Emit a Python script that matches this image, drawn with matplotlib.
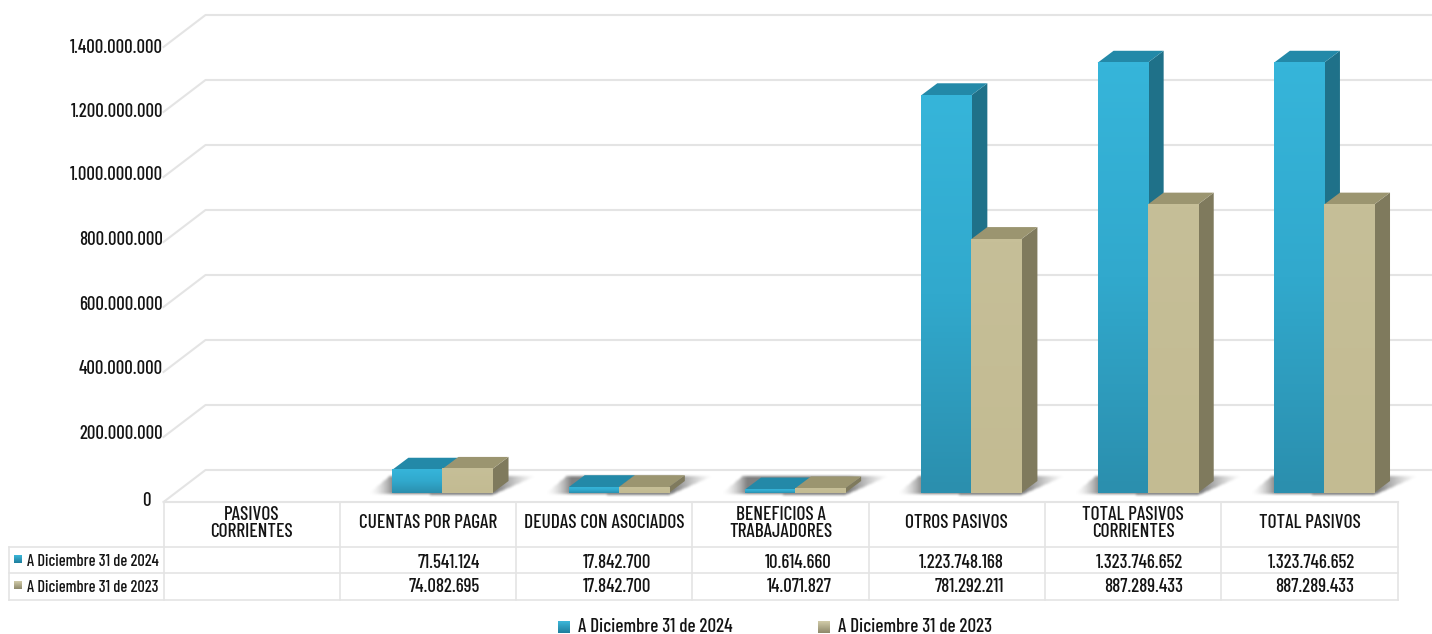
import numpy as np
import matplotlib
matplotlib.use('Agg')
import matplotlib.pyplot as plt
from matplotlib import font_manager as fm
from matplotlib.patches import Polygon
from matplotlib.path import Path
from matplotlib.textpath import TextPath
from matplotlib.transforms import Affine2D, IdentityTransform
from matplotlib.colors import LinearSegmentedColormap

categorias = ['PASIVOS\nCORRIENTES', 'CUENTAS POR PAGAR', 'DEUDAS CON ASOCIADOS',
              'BENEFICIOS A\nTRABAJADORES', 'OTROS PASIVOS', 'TOTAL PASIVOS\nCORRIENTES', 'TOTAL PASIVOS']
serie_2024 = [None, 71541124, 17842700, 10614660, 1223748168, 1323746652, 1323746652]
serie_2023 = [None, 74082695, 17842700, 14071827, 781292211, 887289433, 887289433]
nombre_2024 = 'A Diciembre 31 de 2024'
nombre_2023 = 'A Diciembre 31 de 2023'
ticks = [0, 200000000, 400000000, 600000000, 800000000, 1000000000, 1200000000, 1400000000]


def miles(v):
    return f'{v:,}'.replace(',', '.')


W, H = 1432, 634
# fuente angosta si existe; el tamano se ajusta al ancho medido en la referencia
hay = {f.name for f in fm.fontManager.ttflist}
opciones = ['Barlow Condensed', 'PT Sans Narrow', 'Liberation Sans Narrow', 'DejaVu Sans']
fuente = [o for o in opciones if o in hay][0]
plt.rcParams['font.family'] = [fuente, 'DejaVu Sans']
plt.rcParams['font.weight'] = 500
fig = plt.figure(figsize=(W / 100, H / 100), dpi=100)


def talla(s, ancho_px):
    w = TextPath((0, 0), s, size=10, prop=fm.FontProperties(family=fuente, weight=500)).get_extents().width
    return 10 * ancho_px / (w * 100 / 72)


fs_val = talla('1.400.000.000', 91)
fs_cat = talla('CUENTAS POR PAGAR', 137)
fs_fila = talla(nombre_2024, 131)
fs_ley = talla(nombre_2024, 153)

# el eje va del borde frontal del piso (y=502) hasta la marca de 1.400M
left, right, y0, y1 = 163.5, 1397.6, 502, 47
ax = fig.add_axes([left / W, (H - y0) / H, (right - left) / W, (y0 - y1) / H])
ax.set_xlim(-0.5, 6.5)
ax.set_ylim(0, 1400000000)
ax.axis('off')
ax.set_autoscale_on(False)

# capa en pixeles para tabla y leyenda
pix = fig.add_axes([0, 0, 1, 1], zorder=5)
pix.set_xlim(0, W)
pix.set_ylim(H, 0)
pix.axis('off')
pix.patch.set_alpha(0)
pix.set_autoscale_on(False)

gris = '#e4e4e4'
texto = '#141414'


def pt(x, v, dx=0, dy=0):
    # dato -> pantalla, con desplazamiento de perspectiva en pixeles
    a = ax.transData.transform((x, v))
    return (a[0] + dx, a[1] + dy)


def off(dx, dy):
    return ax.transData + Affine2D().translate(dx, dy)


def poly(pts, color, z):
    ax.add_patch(Polygon(pts, closed=True, facecolor=color, edgecolor='none',
                         transform=IdentityTransform(), zorder=z, clip_on=False))


def caja(a, n):
    # desenfoque simple por filas y columnas
    nucleo = np.ones(n) / n
    a = np.apply_along_axis(lambda f: np.convolve(f, nucleo, mode='same'), 0, a)
    return np.apply_along_axis(lambda f: np.convolve(f, nucleo, mode='same'), 1, a)


def sombra(xa, xb, base):
    # xa, xb, base en pantalla: extremos del frente del par de barras
    m = 14
    x_min, x_max = xa - 24 - m, xb + 44 + m
    y_min, y_max = base - 2 - m, base + 16 + m
    xs = np.arange(x_min, x_max) + 0.5
    ys = np.arange(y_min, y_max) + 0.5
    gx, gy = np.meshgrid(xs, ys)
    forma = Path([(xa - 24, base - 1), (xb, base - 2), (xb + 44, base + 17), (xa - 2, base + 17)])
    masc = forma.contains_points(np.c_[gx.ravel(), gy.ravel()]).reshape(gx.shape).astype(float)
    masc *= np.clip((gx - (xa - 24)) / 26, 0, 1) ** 1.8 * np.clip((xb + 44 - gx) / 40, 0, 1) ** 1.3
    masc = caja(caja(masc, 3), 3)
    rgba = np.zeros(masc.shape + (4,))
    rgba[..., :3] = 0.38
    rgba[..., 3] = masc * 0.8
    ax.imshow(rgba, origin='lower', extent=(x_min, x_max, y_min, y_max), transform=IdentityTransform(),
              aspect='auto', zorder=2, clip_on=False, interpolation='bilinear')


# rejilla: pared izquierda y pared del fondo
prof_x, prof_y = 42, 32
for t in ticks:
    a = pt(-0.5, t)
    b = pt(-0.5, t, prof_x, prof_y)
    c = (W + 5, b[1])
    ax.plot([a[0], b[0], c[0]], [a[1], b[1], c[1]], color=gris, lw=1.5,
            transform=IdentityTransform(), clip_on=False, zorder=1)

# barras
ancho = 0.284
bx, by = 14.5, 9      # frente de la barra sobre el piso
dx3, dy3 = 16, 12     # fondo de la barra
cm_azul = LinearSegmentedColormap.from_list('az', ['#36b5da', '#31a9cd', '#2b8fae'])
cm_tan = LinearSegmentedColormap.from_list('ta', ['#c6bf98', '#c3bb92'])
estilos = [(serie_2024, -ancho / 2, cm_azul, '#2389a8', '#1f7189'),
           (serie_2023, ancho / 2, cm_tan, '#9b9570', '#7f7a5d')]
grad = np.linspace(0, 1, 64).reshape(-1, 1)

for i in range(len(categorias)):
    if serie_2024[i] is None:
        continue
    p = pt(i - ancho, 0, bx, by)
    q = pt(i + ancho, 0, bx, by)
    sombra(p[0], q[0], p[1])
    for serie, d, cm, tapa, lado in estilos:
        v = serie[i]
        x0 = i + d - ancho / 2
        x1 = i + d + ancho / 2
        poly([pt(x1, 0, bx, by), pt(x1, 0, bx + dx3, by + dy3), pt(x1, v, bx + dx3, by + dy3), pt(x1, v, bx, by)], lado, 3)
        poly([pt(x0, v, bx, by), pt(x1, v, bx, by), pt(x1, v, bx + dx3, by + dy3), pt(x0, v, bx + dx3, by + dy3)], tapa, 3)
        ax.bar(i + d, v, ancho, color=cm(0.5), transform=off(bx, by), zorder=3, clip_on=False)
        ax.imshow(grad, cmap=cm, aspect='auto', extent=(x0, x1, 0, v), transform=off(bx, by),
                  zorder=3.5, clip_on=False, interpolation='bilinear')

# etiquetas del eje y
ajuste_y = [2, 4, 4, 3, 3, 3, 1, 0]
for t, s in zip(ticks, ajuste_y):
    xt = 151 if t == 0 else 163
    yt = pt(0, t, 0, s)[1]
    pix.text(xt, H - yt + 1, miles(t), ha='right', va='center', fontsize=fs_val, color=texto)

# tabla
bordes = [left + (right - left) / 7 * k for k in range(8)]
f0, f1, f2, f3 = 502, 547, 573, 600
t_izq = 9
pix.plot([left, right], [f0, f0], color=gris, lw=1.5, zorder=2)
pix.plot([t_izq, right], [f1, f1], color=gris, lw=1.2, zorder=2)
pix.plot([t_izq, right], [f2, f2], color=gris, lw=1.2, zorder=2)
pix.plot([t_izq, right], [f3, f3], color=gris, lw=1.2, zorder=2)
pix.plot([t_izq, t_izq], [f1, f3], color=gris, lw=1.2, zorder=2)
for b in bordes:
    pix.plot([b, b], [f0, f3], color=gris, lw=1.2, zorder=2)

margen_valor = [39, 36, 41, 37, 41, 38, 43]
for i, c in enumerate(categorias):
    cx = (bordes[i] + bordes[i + 1]) / 2
    pix.text(cx, (f0 + f1) / 2 - 1, c, ha='center', va='center', fontsize=fs_cat, linespacing=0.95, color=texto)
    for serie, fy in ((serie_2024, (f1 + f2) / 2 + 2.5), (serie_2023, (f2 + f3) / 2 + 1)):
        if serie[i] is not None:
            pix.text(bordes[i + 1] - margen_valor[i], fy, miles(serie[i]), ha='right', va='center',
                     fontsize=fs_val, color=texto)


def cuadrito(x, y, s, c1, c2):
    pix.imshow(np.linspace(0, 1, 16).reshape(-1, 1), cmap=LinearSegmentedColormap.from_list('q', [c1, c2]),
               extent=(x, x + s, y + s, y), aspect='auto', zorder=3, interpolation='bilinear')


# etiquetas de fila
cuadrito(14, 555, 8, '#3cb6d8', '#1f7f9e')
cuadrito(14, 581, 8, '#d0caa8', '#8f8a6c')
pix.text(27, 562, nombre_2024, ha='left', va='center', fontsize=fs_fila, color=texto)
pix.text(27, 587, nombre_2023, ha='left', va='center', fontsize=fs_fila, color=texto)
# leyenda
cuadrito(558, 621, 12, '#3cb6d8', '#1f7f9e')
cuadrito(818, 621, 12, '#d0caa8', '#8f8a6c')
pix.text(578, 627, nombre_2024, ha='left', va='center', fontsize=fs_ley, color=texto)
pix.text(838, 627, nombre_2023, ha='left', va='center', fontsize=fs_ley, color=texto)

fig.savefig('out.png', dpi=100, facecolor='white')
